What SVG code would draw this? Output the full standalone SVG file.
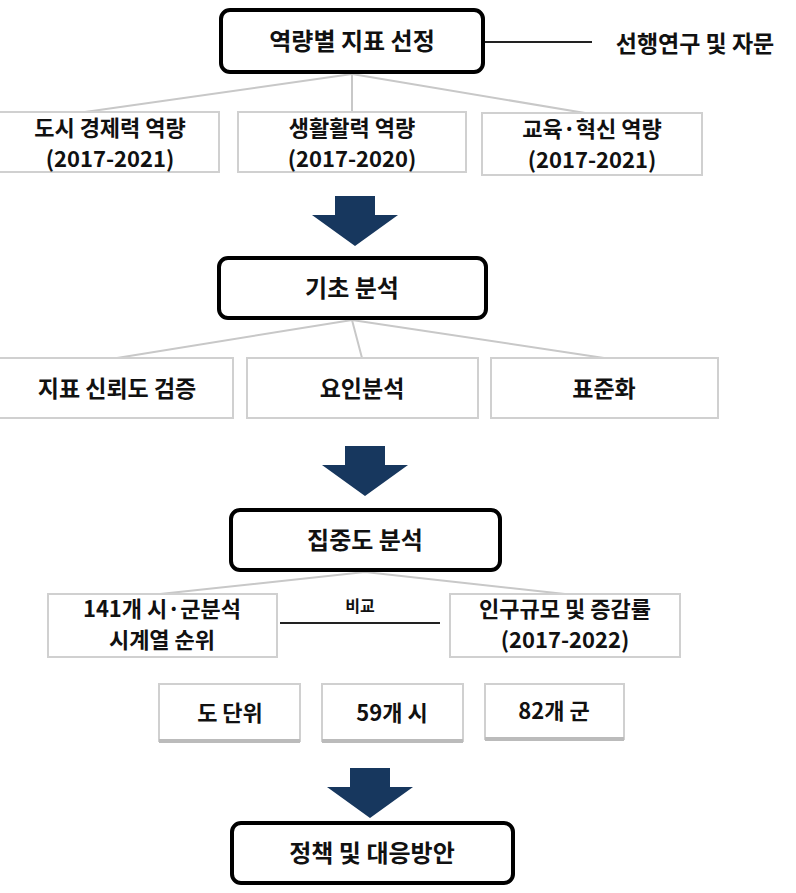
<svg xmlns="http://www.w3.org/2000/svg" width="796" height="893" viewBox="0 0 796 893">
<style>
text{font-family:"Noto Sans CJK KR","Noto Sans",sans-serif;font-weight:700;fill:#111;text-anchor:middle}
.main{fill:#fff;stroke:#000;stroke-width:4}
.sub{fill:#fff;stroke:#d0d0d0;stroke-width:2}
.gl{stroke:#c8c8c8;stroke-width:2;fill:none}
.t{font-size:22px}
.m{font-size:24px}
.arr{fill:#17375e}
</style>
<rect width="796" height="893" fill="#fff"/>
<g id="connectors">
<line x1="483" y1="42" x2="592" y2="42" stroke="#222" stroke-width="2"/>
<path class="gl" d="M352 74 L85 112 M352 74 L352 112 M352 74 L585 113"/>
<path class="gl" d="M352 320 L117 358 M352 320 L362 358 M352 320 L604 358"/>
<path class="gl" d="M365 572 L160 594 M365 572 L565 594"/>
<line x1="280" y1="623" x2="440" y2="623" stroke="#222" stroke-width="2"/>
</g>
<g id="n1"><rect class="main" x="221" y="10" width="262" height="62" rx="9"/><text class="m" x="352" y="50">역량별 지표 선정</text></g>
<g id="n1b"><text class="t" x="695" y="52" style="font-size:23px">선행연구 및 자문</text></g>
<g id="a1"><rect class="sub" x="-5" y="112" width="224" height="60"/><text class="t" x="110" y="136">도시 경제력 역량</text><text class="t" x="110" y="167">(2017-2021)</text></g>
<g id="a2"><rect class="sub" x="238" y="112" width="228" height="60"/><text class="t" x="352" y="136">생활활력 역량</text><text class="t" x="352" y="167">(2017-2020)</text></g>
<g id="a3"><rect class="sub" x="482" y="113" width="220" height="62"/><text class="t" x="592" y="137">교육·혁신 역량</text><text class="t" x="592" y="168">(2017-2021)</text></g>
<g id="arrow1"><path class="arr" d="M335 196 H375 V215 H398 L355 246 L312 215 H335 Z"/></g>
<g id="n2"><rect class="main" x="219" y="258" width="267" height="60" rx="9"/><text class="m" x="352" y="297">기초 분석</text></g>
<g id="b1"><rect class="sub" x="-5" y="358" width="238" height="60"/><text class="t" x="117" y="397" style="font-size:23px">지표 신뢰도 검증</text></g>
<g id="b2"><rect class="sub" x="247" y="358" width="231" height="60"/><text class="t" x="362" y="397" style="font-size:23px">요인분석</text></g>
<g id="b3"><rect class="sub" x="491" y="358" width="227" height="60"/><text class="t" x="604" y="397" style="font-size:23px">표준화</text></g>
<g id="arrow2"><path class="arr" d="M345 446 H385 V465 H408 L365 496 L322 465 H345 Z"/></g>
<g id="n3"><rect class="main" x="231" y="510" width="269" height="60" rx="9"/><text class="m" x="365" y="549">집중도 분석</text></g>
<g id="c1"><rect class="sub" x="48" y="594" width="229" height="63"/><text class="t" x="162" y="617">141개 시·군분석</text><text class="t" x="162" y="648">시계열 순위</text></g>
<g id="cmp"><text x="360" y="612" style="font-size:16px">비교</text></g>
<g id="c2"><rect class="sub" x="450" y="594" width="230" height="63"/><text class="t" x="565" y="617">인구규모 및 증감률</text><text class="t" x="565" y="648">(2017-2022)</text></g>
<g id="d1"><rect class="sub" x="159" y="684" width="141" height="57"/><line x1="159" y1="741" x2="300" y2="741" stroke="#bbb" stroke-width="4"/><text class="t" x="230" y="721">도 단위</text></g>
<g id="d2"><rect class="sub" x="322" y="684" width="141" height="57"/><line x1="322" y1="741" x2="463" y2="741" stroke="#bbb" stroke-width="4"/><text class="t" x="392" y="721">59개 시</text></g>
<g id="d3"><rect class="sub" x="485" y="684" width="139" height="55"/><line x1="485" y1="739" x2="624" y2="739" stroke="#bbb" stroke-width="4"/><text class="t" x="554" y="719">82개 군</text></g>
<g id="arrow3"><path class="arr" d="M350 768 H390 V787 H413 L370 818 L327 787 H350 Z"/></g>
<g id="n4"><rect class="main" x="232" y="823" width="281" height="60" rx="9"/><text class="m" x="372" y="862">정책 및 대응방안</text></g>
</svg>
